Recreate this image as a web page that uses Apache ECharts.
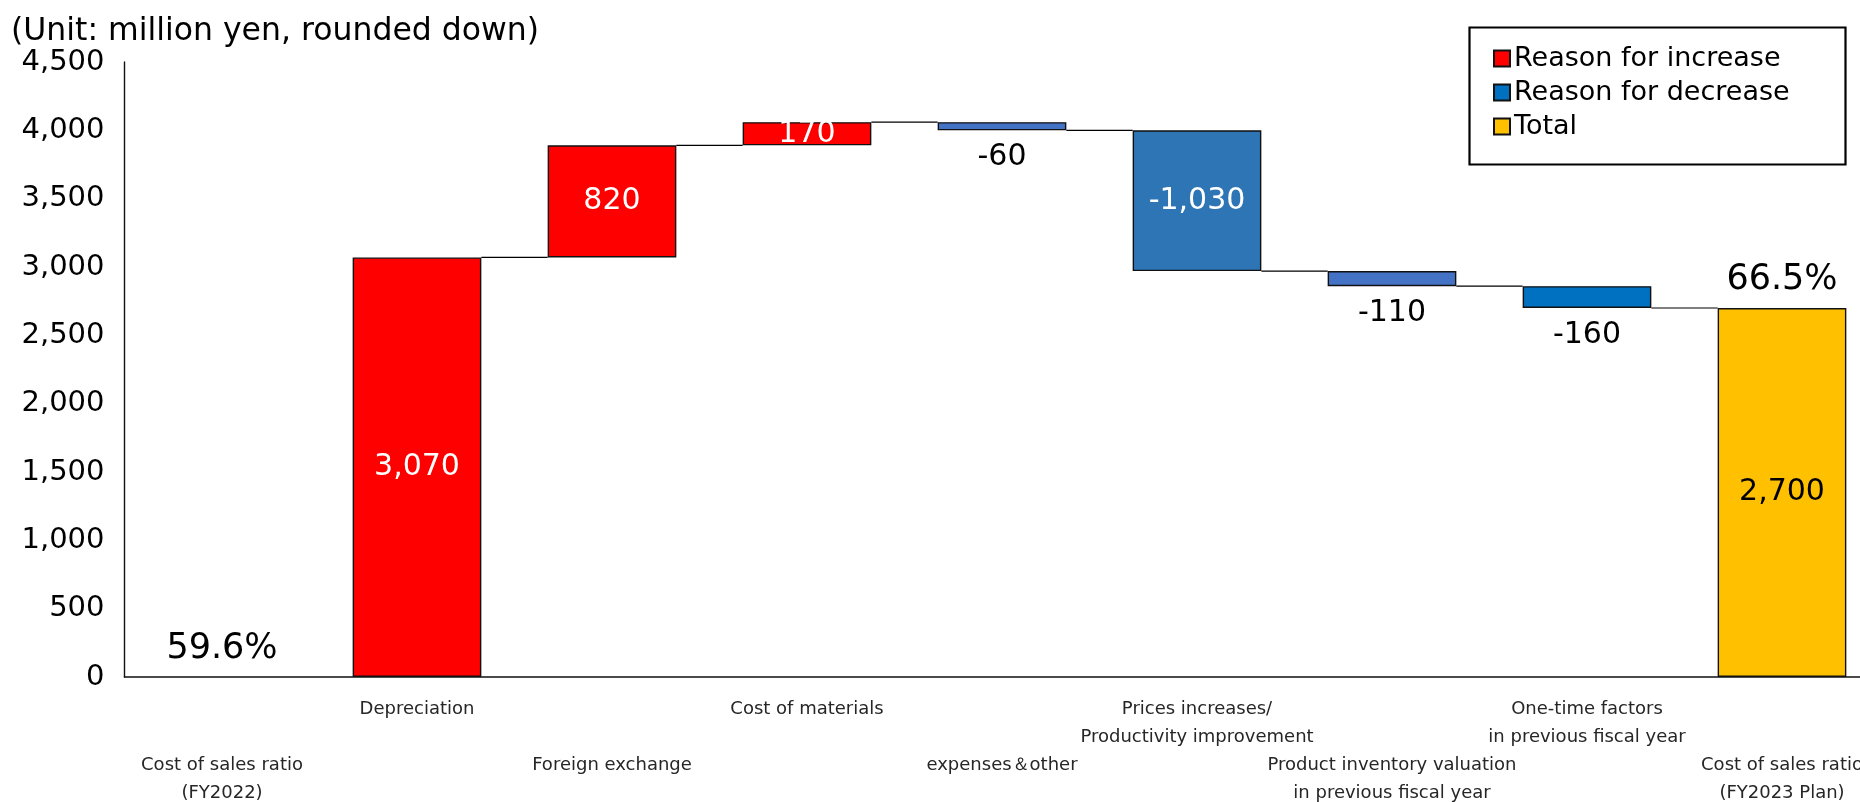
<!DOCTYPE html>
<html>
<head>
<meta charset="utf-8">
<title>Cost of sales ratio bridge</title>
<script src="https://cdn.jsdelivr.net/npm/echarts@6/dist/echarts.min.js"></script>
<style>
  html, body { margin: 0; padding: 0; background: #fff; }
  #chart { width: 1860px; height: 802px; }
</style>
</head>
<body>
<div id="chart"></div>
<script>
// Categories along the bridge, from FY2022 ratio to FY2023 plan
const categories = [
  'Cost of sales ratio\n(FY2022)',
  'Depreciation',
  'Foreign exchange',
  'Cost of materials',
  'expenses＆other',
  'Prices increases/\nProductivity improvement',
  'Product inventory valuation\nin previous fiscal year',
  'One-time factors\nin previous fiscal year',
  'Cost of sales ratio\n(FY2023 Plan)'
];

// Change per factor (million yen); null where the column is a total
const changes = [null, 3070, 820, 170, -60, -1030, -110, -160, null];

// Totals at both ends (million yen)
const totals = [0, null, null, null, null, null, null, null, 2700];

// Cost of sales ratio shown above the total columns
const ratioLabels = ['59.6%', '', '', '', '', '', '', '', '66.5%'];

// Fill colours of the decrease columns
const decreaseColors = [null, null, null, null, '#4472C4', '#2E75B6', '#4472C4', '#0070C0', null];

// Y-axis scale
const yMin = 0, yMax = 4500, yStep = 500;

const FONT = '"DejaVu Sans", Verdana, sans-serif';
const fmt = v => Number(v).toLocaleString('en-US');

// Build the stacked waterfall: invisible base + visible change
const base = [], inc = [], dec = [], tot = [], levels = [];
let running = 0;
categories.forEach((c, i) => {
  const ch = changes[i];
  if (totals[i] !== null) {
    running = totals[i];
    base.push(0); inc.push('-'); dec.push('-');
    tot.push(totals[i] > 0 ? totals[i] : { value: totals[i], itemStyle: { borderWidth: 0 } });
  } else if (ch >= 0) {
    base.push(running); inc.push(ch); dec.push('-'); tot.push('-');
    running += ch;
  } else {
    running += ch;
    base.push(running); inc.push('-'); tot.push('-');
    const big = Math.abs(ch) >= 300;
    dec.push({
      value: -ch,
      itemStyle: { color: decreaseColors[i] },
      label: big
        ? { position: 'inside', color: '#fff' }
        : { position: 'bottom', distance: 12, color: '#000' }
    });
  }
  levels.push(running);
});

// Connector segments: level after column i joined to column i+1
const connectors = [];
for (let i = 1; i < categories.length - 1; i++) connectors.push([i, levels[i]]);

const BAR_RATIO = 0.66;
const barBorder = { borderColor: '#111', borderWidth: 1.4 };

const chart = echarts.init(document.getElementById('chart'), null, { renderer: 'canvas' });
chart.setOption({
  animation: false,
  backgroundColor: '#fff',
  title: {
    text: '(Unit: million yen, rounded down)',
    left: 11, top: 16, padding: 0,
    textStyle: { fontFamily: FONT, fontSize: 31.5, fontWeight: 'normal', color: '#000' }
  },
  graphic: [{
    type: 'rect',
    left: 1467, top: 25,
    shape: { width: 376, height: 137 },
    style: { fill: 'none', stroke: '#000', lineWidth: 2.2 },
    z: 10
  }],
  legend: {
    data: ['Reason for increase', 'Reason for decrease', 'Total'],
    orient: 'vertical',
    left: 1493, top: 45,
    padding: 0,
    itemGap: 7,
    itemWidth: 16, itemHeight: 16,
    icon: 'rect',
    selectedMode: false,
    textStyle: { fontFamily: FONT, fontSize: 27, color: '#000', lineHeight: 27, padding: [0, 0, 0, -1] }
  },
  grid: {
    left: 124.5, top: 62, width: 1755, height: 615,
    containLabel: false, outerBoundsMode: 'none'
  },
  xAxis: {
    type: 'category',
    data: categories,
    axisTick: { show: false },
    axisLine: { lineStyle: { color: '#111', width: 1.6 } },
    axisLabel: {
      interval: 0,
      margin: 18,
      hideOverlap: false,
      fontFamily: FONT, fontSize: 18, color: '#262626', lineHeight: 28,
      formatter: (v, i) => (i % 2 === 0 ? ' \n \n' + v : v)
    }
  },
  yAxis: {
    type: 'value',
    min: yMin, max: yMax, interval: yStep,
    splitLine: { show: false },
    axisTick: { show: false },
    axisLine: { show: true, lineStyle: { color: '#111', width: 1.4 } },
    axisLabel: { fontFamily: FONT, fontSize: 29, color: '#000', margin: 20, formatter: fmt }
  },
  series: [
    {
      name: 'base', type: 'bar', stack: 'wf', data: base,
      barWidth: (BAR_RATIO * 100) + '%',
      itemStyle: { color: 'transparent', borderWidth: 0 },
      emphasis: { disabled: true }, silent: true
    },
    {
      name: 'Reason for increase', type: 'bar', stack: 'wf', data: inc,
      itemStyle: Object.assign({ color: '#FF0000' }, barBorder),
      label: {
        show: true, position: 'inside', color: '#fff',
        fontFamily: FONT, fontSize: 30,
        formatter: p => fmt(changes[p.dataIndex])
      }
    },
    {
      name: 'Reason for decrease', type: 'bar', stack: 'wf', data: dec,
      itemStyle: Object.assign({ color: '#0070C0' }, barBorder),
      label: {
        show: true, fontFamily: FONT, fontSize: 30,
        formatter: p => fmt(changes[p.dataIndex])
      }
    },
    {
      name: 'Total', type: 'bar', stack: 'wf', data: tot,
      itemStyle: Object.assign({ color: '#FFC000' }, barBorder),
      label: {
        show: true, position: 'inside', color: '#000',
        fontFamily: FONT, fontSize: 30,
        formatter: p => (p.value > 0 ? fmt(p.value) : '')
      }
    },
    {
      name: 'connectors', type: 'custom', data: connectors,
      encode: { x: 0, y: 1 }, silent: true, z: 3,
      renderItem: (params, api) => {
        const i = api.value(0), v = api.value(1);
        const p1 = api.coord([i, v]);
        const p2 = api.coord([i + 1, v]);
        const half = api.size([1, 0])[0] * BAR_RATIO / 2;
        return {
          type: 'line',
          shape: { x1: p1[0] + half, y1: p1[1], x2: p2[0] - half, y2: p2[1] },
          style: { stroke: '#000', lineWidth: 1.2 }
        };
      }
    },
    {
      name: 'ratio', type: 'scatter', symbolSize: 0, silent: true, z: 5,
      itemStyle: { opacity: 1 },
      data: totals.map((t, i) => (t === null ? '-' : t)),
      label: {
        show: true, position: 'top', distance: 11, color: '#000',
        textBorderWidth: 0,
        fontFamily: FONT, fontSize: 35,
        formatter: p => ratioLabels[p.dataIndex]
      }
    }
  ]
});
</script>
</body>
</html>
